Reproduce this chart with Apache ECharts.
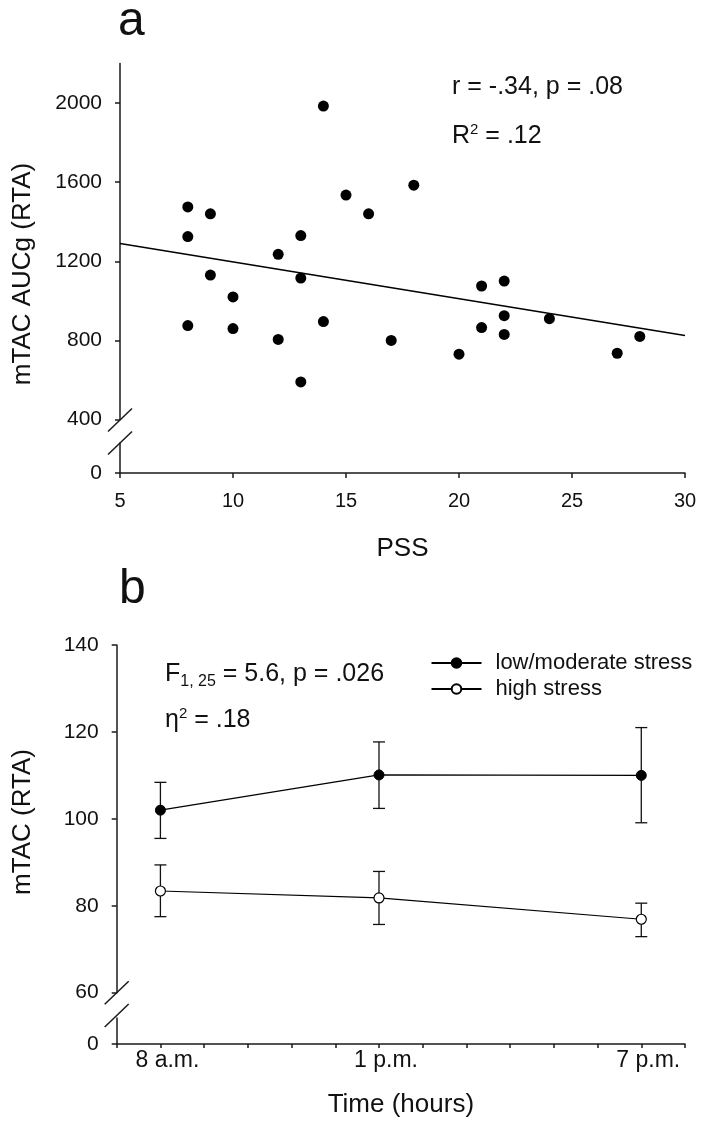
<!DOCTYPE html>
<html><head><meta charset="utf-8">
<script src="https://cdn.jsdelivr.net/npm/echarts@6/dist/echarts.min.js"></script>
<style>html,body{margin:0;padding:0;background:#fff}#c{width:703px;height:1123px}</style>
</head><body><div id="c"></div>
<script>
// ---- Panel a data ----
const pssX = [8,8,8,9,9,10,10,12,12,13,13,13,14,14,15,16,17,18,20,21,21,22,22,22,24,27,28];
const aucgY = [1475,1325,875,1440,1130,1020,860,1235,805,1330,1115,590,1985,895,1535,1440,800,1585,730,1075,865,1100,925,830,910,735,820];
const fitX = [5,30];
const fitY = [1290,825];
const aTicksY = [400,800,1200,1600,2000];
// ---- Panel b data ----
const timeHours = [8,13,19];
const timeLabels = ['8 a.m.','1 p.m.','7 p.m.'];
const lowMean = [102,110.1,110];
const lowLo = [95.5,102.4,99.1];
const lowHi = [108.4,117.7,121.0];
const highMean = [83.4,81.8,76.9];
const highLo = [77.5,75.7,72.9];
const highHi = [89.4,87.9,80.6];
const seriesNames = ['low/moderate stress','high stress'];

const FONT = '"Liberation Sans", Arial, sans-serif';
const INK = '#111';
const AX = '#1a1a1a';

const chart = echarts.init(document.getElementById('c'), null, {renderer:'canvas'});

const ctx = document.createElement('canvas').getContext('2d');
function tw(t, s){ ctx.font = s + 'px ' + FONT; return ctx.measureText(t).width; }
// build text runs on a common baseline; segs: [text,size,dy]
function runs(x, baseline, segs){
  const out = []; let cx = x;
  segs.forEach(([t,s,dy])=>{
    out.push({type:'text', x:cx, y: baseline + (dy||0) - 0.33*s,
      style:{text:t, font: s+'px '+FONT, fill:INK, textAlign:'left', textVerticalAlign:'middle', verticalAlign:'middle'}});
    cx += tw(t,s);
  });
  return out;
}

const axisLine = {show:true, onZero:false, lineStyle:{color:AX, width:1.5}};
const tick = {show:true, inside:false, length:5, lineStyle:{color:AX, width:1.5}};
const lab = (s,m)=>({color:INK, fontSize:s, fontFamily:FONT, margin:m, formatter:(v)=>String(v)});

const data2 = (xs,ys)=>xs.map((x,i)=>[x,ys[i]]);

function errBars(lo, hi){
  return {
    type:'custom', xAxisIndex:2, yAxisIndex:2, z:1, silent:true,
    data: timeHours.map((t,i)=>[t, lo[i], hi[i]]),
    renderItem:(p, api)=>{
      const a = api.coord([api.value(0), api.value(1)]);
      const b = api.coord([api.value(0), api.value(2)]);
      const st = {stroke:'#111', lineWidth:1.3};
      return {type:'group', children:[
        {type:'line', shape:{x1:a[0],y1:a[1],x2:b[0],y2:b[1]}, style:st},
        {type:'line', shape:{x1:a[0]-6,y1:a[1],x2:a[0]+6,y2:a[1]}, style:st},
        {type:'line', shape:{x1:b[0]-6,y1:b[1],x2:b[0]+6,y2:b[1]}, style:st}
      ]};
    }
  };
}

const slash = (cx, cy)=>({type:'line', shape:{x1:cx-12,y1:cy+11.5,x2:cx+12,y2:cy-11.5}, style:{stroke:AX, lineWidth:1.5}});

const graphics = [
  {type:'text', x:118, y:22, style:{text:'a', font:'48px '+FONT, fill:INK, textVerticalAlign:'middle', verticalAlign:'middle'}},
  {type:'text', x:119, y:590, style:{text:'b', font:'48px '+FONT, fill:INK, textVerticalAlign:'middle', verticalAlign:'middle'}},
  {type:'text', x:23, y:274, rotation:Math.PI/2, style:{text:'mTAC AUCg (RTA)', font:'26px '+FONT, fill:INK, textAlign:'center', align:'center', textVerticalAlign:'middle', verticalAlign:'middle'}},
  {type:'text', x:23, y:822, rotation:Math.PI/2, style:{text:'mTAC (RTA)', font:'26px '+FONT, fill:INK, textAlign:'center', align:'center', textVerticalAlign:'middle', verticalAlign:'middle'}},
  slash(120, 420), slash(120, 443),
  slash(116.7, 992.7), slash(116.7, 1015.5)
].concat(
  runs(452, 95, [['r = -.34, p = .08',25]]),
  runs(452, 144, [['R',25],['2',15,-9],[' = .12',25]]),
  runs(165, 682.7, [['F',25],['1, 25',16,4],[' = 5.6, p = .026',25]]),
  runs(165, 728, [['η',25],['2',15,-9],[' = .18',25]])
);

const option = {
  animation:false,
  backgroundColor:'#fff',
  textStyle:{fontFamily:FONT, color:INK},
  grid:[
    {left:120, top:63.5, width:565, height:356},
    {left:120, top:443, width:565, height:30},
    {left:116.7, top:645, width:568.3, height:347.7},
    {left:116.7, top:1018, width:568.3, height:26}
  ],
  xAxis:[
    {gridIndex:0, type:'value', min:5, max:30, show:false},
    {gridIndex:1, type:'value', min:5, max:30, interval:5, axisLine, axisTick:tick, splitLine:{show:false},
     axisLabel:lab(20,18.5),
     name:'PSS', nameLocation:'middle', nameGap:62.5, nameTextStyle:{fontSize:26, color:INK, fontFamily:FONT, lineHeight:26}},
    {gridIndex:2, type:'value', min:7, max:20, show:false},
    {gridIndex:3, type:'value', min:7, max:20, interval:1, axisLine, axisTick:Object.assign({}, tick, {length:4}), splitLine:{show:false},
     axisLabel:Object.assign(lab(23,5), {customValues:timeHours, padding:[0,0,0,14],
       formatter:(v)=>timeLabels[timeHours.indexOf(v)] || ''}),
     name:'Time (hours)', nameLocation:'middle', nameGap:47.5, nameTextStyle:{fontSize:26, color:INK, fontFamily:FONT, lineHeight:26}}
  ],
  yAxis:[
    {gridIndex:0, type:'value', min:400, max:2200, interval:400, axisLine, splitLine:{show:false},
     axisTick:Object.assign({}, tick, {customValues:aTicksY}),
     axisLabel:Object.assign(lab(21,18), {customValues:aTicksY})},
    {gridIndex:1, type:'value', min:0, max:100, axisLine, splitLine:{show:false},
     axisTick:Object.assign({}, tick, {customValues:[0]}),
     axisLabel:Object.assign(lab(21,18), {customValues:[0]})},
    {gridIndex:2, type:'value', min:60, max:140, interval:20, axisLine, splitLine:{show:false},
     axisTick:tick, axisLabel:lab(21,18)},
    {gridIndex:3, type:'value', min:0, max:10, axisLine, splitLine:{show:false},
     axisTick:Object.assign({}, tick, {customValues:[0]}),
     axisLabel:Object.assign(lab(21,18), {customValues:[0]})}
  ],
  legend:{
    data:seriesNames, orient:'vertical', left:425.5, top:646,
    itemWidth:50, itemHeight:12, itemGap:2,
    textStyle:{fontSize:22, color:INK, fontFamily:FONT, lineHeight:24, padding:[0,0,0,9]}
  },
  series:[
    {type:'line', xAxisIndex:0, yAxisIndex:0, data:data2(fitX, fitY), showSymbol:false, symbol:'none',
     lineStyle:{color:'#000', width:1.5}, silent:true, z:1},
    {type:'scatter', xAxisIndex:0, yAxisIndex:0, data:data2(pssX, aucgY), symbol:'circle', symbolSize:11,
     itemStyle:{color:'#000', opacity:1}, z:2},
    errBars(lowLo, lowHi),
    errBars(highLo, highHi),
    {name:seriesNames[0], type:'line', xAxisIndex:2, yAxisIndex:2, data:data2(timeHours, lowMean), symbol:'circle', symbolSize:10,
     itemStyle:{color:'#000', borderColor:'#000', borderWidth:1}, lineStyle:{color:'#000', width:1.2}, z:3},
    {name:seriesNames[1], type:'line', xAxisIndex:2, yAxisIndex:2, data:data2(timeHours, highMean), symbol:'circle', symbolSize:10,
     itemStyle:{color:'#fff', borderColor:'#000', borderWidth:1.2}, lineStyle:{color:'#000', width:1.2}, z:3}
  ],
  graphic:graphics
};
chart.setOption(option);
</script>
</body></html>
